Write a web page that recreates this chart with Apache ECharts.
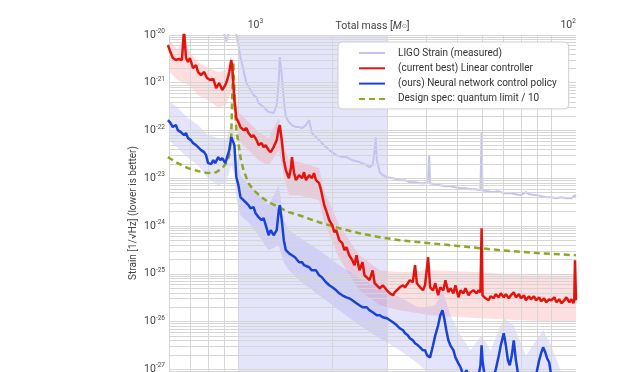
<!DOCTYPE html>
<html><head><meta charset="utf-8">
<script src="https://cdn.jsdelivr.net/npm/echarts@6/dist/echarts.min.js"></script>
<style>html,body{margin:0;padding:0;background:#fff}#c{width:640px;height:372px}</style>
</head><body><div id="c"></div>
<script>
// ---- data: [frequency Hz, strain 1/sqrt(Hz)] ----
const ligoStrain = [
[8.88,2.1e-20],[9.01,1.05e-20],[9.15,7.4e-21],[9.28,1.05e-20],[9.49,2.1e-20],[9.71,2.1e-20],[9.85,1.0e-20],
[10.0,6.17e-21],[10.15,3.46e-21],[10.38,1.85e-21],[10.61,9.86e-22],[10.93,7.03e-22],[11.18,5.52e-22],[11.43,5.01e-22],
[11.60,3.75e-22],[12.04,3.10e-22],[12.49,2.43e-22],[12.96,2.32e-22],[13.26,3.41e-22],[13.46,1.14e-21],[13.56,3.46e-21],
[13.66,3.81e-21],[13.76,1.45e-21],[13.97,4.34e-22],[14.18,1.91e-22],[14.50,1.50e-22],[14.83,1.30e-22],[15.27,1.18e-22],
[15.63,1.18e-22],[15.98,1.12e-22],[16.45,1.30e-22],[16.83,1.65e-22],[17.17,8.83e-23],[17.70,7.28e-23],[18.11,6.29e-23],
[18.48,5.45e-23],[19.06,4.49e-23],[19.52,3.88e-23],[19.96,3.52e-23],[20.55,3.05e-23],[21.48,2.77e-23],[22.14,2.77e-23],
[23.13,2.39e-23],[24.37,2.18e-23],[25.71,1.88e-23],[26.25,1.71e-23],[26.86,1.88e-23],[27.26,3.88e-23],[27.46,7.28e-23],
[27.70,2.39e-23],[28.32,1.34e-23],[28.95,1.16e-23],[29.83,1.05e-23],[31.2,1.00e-23],[32.8,9.12e-24],[34.1,9.12e-24],
[35.3,8.28e-24],[36.7,8.28e-24],[38.1,7.89e-24],[39.5,7.89e-24],[40.4,8.69e-24],[40.7,3.05e-23],[41.0,7.89e-24],
[42.6,7.52e-24],[44.2,7.16e-24],[45.9,6.82e-24],[47.6,6.82e-24],[49.4,6.50e-24],[51.3,6.20e-24],[53.2,6.20e-24],
[55.2,5.91e-24],[57.3,5.91e-24],[59.4,5.63e-24],[59.9,9.25e-23],[60.3,5.63e-24],[62.6,5.37e-24],[65.0,5.12e-24],
[67.5,5.37e-24],[70.5,4.87e-24],[74.3,4.87e-24],[77.1,4.64e-24],[80.0,4.43e-24],[83.0,5.12e-24],[84.9,4.64e-24],
[89.4,4.43e-24],[92.8,4.22e-24],[96.3,4.02e-24],[100,4.02e-24],[103.9,3.83e-24],[107.7,4.02e-24],[111.8,3.83e-24],
[116.0,3.83e-24],[119.0,4.43e-24],[120,4.22e-24]
];
const linearController = [
[5.95,6.17e-21],[6.03,4.85e-21],[6.17,3.30e-21],[6.31,2.99e-21],[6.45,3.14e-21],[6.60,2.99e-21],[6.70,1.3e-20],[6.75,1.3e-20],
[6.80,3.30e-21],[6.90,2.72e-21],[7.00,3.30e-21],[7.16,2.03e-21],[7.32,2.35e-21],[7.43,1.68e-21],[7.60,1.45e-21],[7.77,1.68e-21],
[7.94,1.26e-21],[8.12,1.14e-21],[8.31,1.20e-21],[8.49,7.74e-22],[8.68,9.86e-22],[8.88,7.03e-22],[9.08,8.95e-22],[9.21,1.14e-21],
[9.35,1.68e-21],[9.49,2.99e-21],[9.56,2.03e-21],[9.71,4.34e-22],[9.85,1.82e-22],[10.0,1.50e-22],[10.15,1.18e-22],[10.38,1.02e-22],
[10.61,1.12e-22],[10.77,8.83e-23],[11.01,7.28e-23],[11.18,8.01e-23],[11.43,6.29e-23],[11.60,4.94e-23],[11.86,5.45e-23],[12.04,4.49e-23],
[12.22,4.94e-23],[12.49,3.88e-23],[12.68,3.52e-23],[12.96,4.49e-23],[13.26,6.29e-23],[13.46,1.12e-22],[13.56,1.30e-22],[13.76,6.29e-23],
[13.97,2.39e-23],[14.18,1.48e-23],[14.50,1.00e-23],[14.72,1.63e-23],[14.83,2.77e-23],[15.05,1.34e-23],[15.27,9.12e-24],[15.63,1.16e-23],
[15.98,1.00e-23],[16.21,1.34e-23],[16.45,9.12e-24],[16.83,1.16e-23],[17.17,1.00e-23],[17.44,1.28e-23],[17.70,9.12e-24],[18.11,7.89e-24],
[18.38,5.63e-24],[18.81,2.73e-24],[19.06,2.14e-24],[19.52,1.32e-24],[19.96,1.04e-24],[20.25,7.41e-25],[20.55,8.17e-25],[21.00,5.04e-25],
[21.48,4.36e-25],[21.82,3.11e-25],[22.14,3.60e-25],[22.61,2.44e-25],[23.13,1.92e-25],[23.51,1.51e-25],[23.85,2.44e-25],[24.37,1.18e-25],
[24.93,1.74e-25],[25.30,9.31e-26],[25.71,8.45e-26],[26.25,7.31e-26],[26.86,1.18e-25],[27.26,6.33e-26],[27.70,5.74e-26],[28.32,4.97e-26],
[28.95,5.74e-26],[29.83,4.51e-26],[30.5,3.90e-26],[31.2,3.54e-26],[31.6,4.09e-26],[32.1,4.51e-26],[32.8,5.21e-26],[33.6,5.74e-26],
[34.1,5.21e-26],[34.8,6.33e-26],[35.3,7.31e-26],[36.1,6.64e-26],[36.7,1.51e-25],[37.2,6.33e-26],[38.1,5.21e-26],[38.9,4.51e-26],
[39.5,5.74e-26],[40.4,2.22e-25],[41.0,5.21e-26],[41.9,4.51e-26],[42.6,6.33e-26],[43.5,3.54e-26],[44.2,5.21e-26],[45.2,4.51e-26],
[45.9,7.31e-26],[46.9,4.09e-26],[47.6,4.97e-26],[48.7,3.90e-26],[49.4,5.74e-26],[50.5,3.21e-26],[51.3,4.51e-26],[52.4,3.90e-26],
[53.2,4.97e-26],[54.4,3.54e-26],[55.2,4.09e-26],[56.4,4.51e-26],[57.7,3.90e-26],[58.6,4.51e-26],[59.4,4.09e-26],[59.9,9.0e-25],
[60.3,3.54e-26],[61.7,3.06e-26],[63.1,2.78e-26],[64.0,3.37e-26],[65.5,3.06e-26],[66.4,3.72e-26],[68.0,3.21e-26],[69.0,3.90e-26],
[70.5,3.21e-26],[71.6,3.72e-26],[73.2,3.06e-26],[74.3,3.54e-26],[75.9,4.09e-26],[77.1,3.21e-26],[78.9,3.72e-26],[80.0,3.06e-26],
[81.8,3.54e-26],[83.0,2.78e-26],[84.9,3.37e-26],[86.1,2.92e-26],[88.1,3.37e-26],[89.4,2.78e-26],[91.5,3.21e-26],[92.8,2.65e-26],
[94.9,3.06e-26],[96.3,2.53e-26],[98.5,2.92e-26],[100,2.78e-26],[102.3,3.21e-26],[103.9,2.53e-26],[106.1,2.92e-26],[107.7,2.41e-26],
[110.1,2.78e-26],[111.8,3.21e-26],[114.3,2.53e-26],[116.0,2.92e-26],[117.8,2.41e-26],[118.5,2.78e-26],[119.1,1.92e-25],[120,2.78e-26]
];
const neuralPolicy = [
[5.95,1.65e-22],[6.07,1.43e-22],[6.17,1.18e-22],[6.31,1.30e-22],[6.40,1.02e-22],[6.55,9.25e-23],[6.70,8.01e-23],[6.80,8.83e-23],
[6.90,6.93e-23],[7.05,6.29e-23],[7.16,5.45e-23],[7.32,4.94e-23],[7.43,4.49e-23],[7.60,3.88e-23],[7.77,3.52e-23],[7.88,3.05e-23],
[8.00,2.07e-23],[8.18,1.98e-23],[8.31,2.39e-23],[8.43,2.07e-23],[8.62,2.77e-23],[8.75,2.39e-23],[8.88,2.64e-23],[9.08,2.07e-23],
[9.21,2.18e-23],[9.35,3.88e-23],[9.49,7.28e-23],[9.56,8.01e-23],[9.71,4.94e-23],[9.85,1.05e-23],[10.0,7.16e-24],[10.15,4.02e-24],
[10.38,3.48e-24],[10.53,3.83e-24],[10.77,2.73e-24],[10.93,2.36e-24],[11.18,2.48e-24],[11.35,1.85e-24],[11.60,1.53e-24],[11.86,1.32e-24],
[12.04,1.46e-24],[12.31,9.0e-25],[12.49,6.41e-25],[12.68,8.17e-25],[12.96,6.41e-25],[13.26,8.17e-25],[13.46,2.14e-24],[13.56,2.73e-24],
[13.76,1.32e-24],[13.97,5.04e-25],[14.18,3.11e-25],[14.50,2.69e-25],[14.83,2.44e-25],[15.16,2.22e-25],[15.63,1.74e-25],[15.98,1.74e-25],
[16.21,1.51e-25],[16.83,1.37e-25],[17.17,1.18e-25],[17.70,1.18e-25],[18.11,9.31e-26],[18.48,8.45e-26],[19.06,6.64e-26],[19.52,5.74e-26],
[19.96,5.21e-26],[20.55,4.51e-26],[21.00,3.90e-26],[21.48,3.54e-26],[22.14,3.21e-26],[22.61,3.06e-26],[23.13,2.78e-26],[23.85,2.41e-26],
[24.37,2.19e-26],[24.93,1.99e-26],[25.71,1.99e-26],[26.25,1.72e-26],[26.86,1.56e-26],[27.70,1.35e-26],[28.32,1.35e-26],[28.95,1.23e-26],
[29.83,1.17e-26],[30.5,1.06e-26],[31.2,9.62e-27],[32.1,8.32e-27],[32.8,7.21e-27],[33.6,6.54e-27],[34.1,5.66e-27],[34.8,5.14e-27],
[35.3,4.45e-27],[36.1,4.04e-27],[36.7,3.49e-27],[37.5,3.17e-27],[38.1,2.88e-27],[38.9,2.49e-27],[39.5,2.49e-27],[40.1,1.95e-27],
[41.0,1.77e-27],[41.9,3.17e-27],[42.6,5.14e-27],[43.5,8.32e-27],[44.2,1.35e-26],[44.9,1.72e-26],[45.5,1.17e-26],[46.2,6.54e-27],
[46.9,4.04e-27],[47.6,3.17e-27],[48.7,2.49e-27],[49.4,1.77e-27],[50.5,1.33e-27],[51.3,1.10e-27],[52.4,7.4e-28],[53.6,9.5e-28],
[55.2,5.9e-28],[58.6,7.4e-28],[59.4,1.21e-27],[59.9,3.17e-27],[60.3,1.54e-27],[61.2,7.4e-28],[64.0,5.9e-28],[66.4,9.5e-28],
[68.0,1.95e-27],[69.0,3.17e-27],[70.5,5.66e-27],[71.6,3.17e-27],[72.7,1.54e-27],[73.7,1.21e-27],[74.8,1.95e-27],[75.9,4.04e-27],
[77.1,1.54e-27],[78.9,5.9e-28],[83.0,4.6e-28],[89.4,7.4e-28],[91.5,1.54e-27],[92.8,2.15e-27],[94.2,2.88e-27],[95.6,2.3e-27],
[97.1,1.67e-27],[98.5,1.4e-27],[100,7.4e-28],[107.7,4.6e-28],[120,4.6e-28]
];
const designSpec = [
[5.95,2.77e-23],[6.40,2.07e-23],[6.90,1.63e-23],[7.43,1.41e-23],[8.00,1.28e-23],[8.49,1.34e-23],[8.88,1.63e-23],[9.15,2.07e-23],
[9.35,3.05e-23],[9.49,8.01e-23],[9.56,5.52e-22],[9.63,2.72e-21],[9.71,7.03e-22],[9.78,2.10e-22],[9.85,1.02e-22],[10.0,5.45e-23],
[10.15,2.77e-23],[10.38,1.48e-23],[10.77,7.89e-24],[11.18,5.63e-24],[11.86,4.02e-24],[12.49,3.16e-24],[13.46,2.48e-24],[14.50,1.95e-24],
[15.63,1.68e-24],[18.11,1.20e-24],[21.00,9.0e-25],[24.37,7.06e-25],[28.32,5.82e-25],[32.8,5.04e-25],[41.0,4.36e-25],[51.3,3.77e-25],
[69.0,3.11e-25],[92.8,2.69e-25],[120,2.44e-25]
];
const linearUpper = [
[5.95,8.65e-21],[6.40,4.85e-21],[6.70,1.0e-20],[6.90,4.85e-21],[7.43,2.72e-21],[8.00,2.03e-21],[8.62,1.68e-21],[9.15,1.85e-21],
[9.49,3.81e-21],[9.71,8.95e-22],[10.0,2.43e-22],[10.77,1.50e-22],[11.60,9.25e-23],[12.49,6.93e-23],[13.46,1.82e-22],[13.97,4.94e-23],
[14.50,2.39e-23],[15.63,2.18e-23],[18.11,1.63e-23],[18.81,5.63e-24],[21.00,1.04e-24],[24.37,2.44e-25],[28.32,1.18e-25],[32.8,1.07e-25],
[41.0,1.18e-25],[59.4,1.07e-25],[80.0,9.31e-26],[120,9.31e-26]
];
const linearLower = [
[5.95,1.85e-21],[6.40,1.14e-21],[6.90,8.95e-22],[7.43,5.52e-22],[8.00,4.34e-22],[8.62,2.95e-22],[9.15,3.41e-22],[9.49,7.03e-22],
[9.71,1.65e-22],[10.0,6.29e-23],[10.77,3.88e-23],[11.60,2.39e-23],[12.49,1.88e-23],[13.46,3.88e-23],[13.97,1.16e-23],[14.50,4.43e-24],
[15.63,4.43e-24],[18.11,3.48e-24],[18.81,1.20e-24],[21.00,2.11e-25],[24.37,4.51e-26],[28.32,2.19e-26],[32.8,1.72e-26],[41.0,1.35e-26],
[59.4,1.17e-26],[80.0,1.06e-26],[120,9.62e-27]
];
const neuralUpper = [
[5.95,4.34e-22],[6.40,2.95e-22],[6.90,1.82e-22],[7.43,1.30e-22],[8.00,8.01e-23],[8.62,6.93e-23],[9.15,6.29e-23],[9.49,1.50e-22],
[9.71,1.02e-22],[9.85,3.05e-23],[10.15,1.16e-23],[10.77,7.16e-24],[11.60,4.43e-24],[12.49,2.73e-24],[13.46,7.16e-24],[13.97,1.32e-24],
[14.50,8.17e-25],[15.63,5.82e-25],[18.11,3.11e-25],[21.00,1.51e-25],[24.37,8.05e-26],[28.32,4.97e-26],[32.8,3.21e-26],[38.1,1.89e-26],
[42.6,2.19e-26],[44.9,4.51e-26],[47.6,1.35e-26],[51.3,5.14e-27],[55.2,2.49e-27],[59.9,5.14e-27],[64.0,2.49e-27],[70.5,1.17e-26],
[75.9,8.32e-27],[83.0,1.95e-27],[94.2,6.54e-27],[100,3.17e-27],[107.7,8.6e-28],[120,5.9e-28]
];
const neuralLower = [
[5.95,6.29e-23],[6.40,4.28e-23],[6.90,2.64e-23],[7.43,1.88e-23],[8.00,1.0e-23],[8.62,7.16e-24],[9.15,8.28e-24],[9.49,1.88e-23],
[9.71,1.16e-23],[9.85,3.48e-24],[10.15,1.68e-24],[10.77,1.20e-24],[11.60,6.41e-25],[12.49,3.11e-25],[13.46,3.96e-25],[13.97,1.74e-25],
[14.50,1.18e-25],[15.63,7.31e-26],[18.11,3.54e-26],[21.00,1.72e-26],[24.37,8.32e-27],[28.32,4.45e-27],[32.8,2.49e-27],[38.1,1.21e-27],
[41.0,7.4e-28],[120,5.9e-28]
];
const shadedBandHz = [10, 30];
const freqGridLines = [6, 7, 8, 9, 10, 20, 30, 40, 50, 60, 70, 80, 90, 100];
const strainDecades = [-28, -27, -26, -25, -24, -23, -22, -21];
const massScale = 11330; // total mass [Msun] = massScale / f
const massTicks = [100, 1000];
const names = ['LIGO Strain (measured)', '(current best) Linear controller', '(ours) Neural network control policy', 'Design spec: quantum limit / 10'];

const FONT = 'Roboto, "Noto Sans", sans-serif';
const X_RANGE = [6, 120], Y_RANGE = [1e-28, 1e-20];
const strainGridLines = [];
strainDecades.forEach(d => { for (let k = 1; k <= 9; k++) strainGridLines.push(k * Math.pow(10, d)); });
strainGridLines.push(1e-20);

function powLabel(v) {
  const l = Math.log10(v), e = Math.round(l);
  if (!isFinite(l) || Math.abs(l - e) > 1e-6) return '';
  return '{b|10}{s|' + e + '}';
}
function massLabel(v) {
  return massTicks.some(t => Math.abs(v - t) / t < 1e-6) ? powLabel(v) : '';
}
function band(upper, lower, color) {
  return {
    type: 'custom', coordinateSystem: 'cartesian2d', silent: true, z: 3,
    data: [upper[0]],
    renderItem(params, api) {
      const pts = upper.map(p => api.coord(p)).concat(lower.slice().reverse().map(p => api.coord(p)));
      const cs = params.coordSys;
      return { type: 'group', clipPath: { type: 'rect', shape: { x: cs.x, y: cs.y, width: cs.width, height: cs.height } },
        children: [{ type: 'polygon', shape: { points: pts }, style: { fill: color } }] };
    }
  };
}
const chart = echarts.init(document.getElementById('c'), null, { renderer: 'canvas' });
const gridColor = '#d6d6d6';
const labRich = { b: { fontSize: 10.5, color: '#444', fontFamily: FONT }, s: { fontSize: 6.5, color: '#444', fontFamily: FONT, padding: [0, 0, 7, 0] } };
chart.setOption({
  animation: false,
  textStyle: { fontFamily: FONT },
  grid: { left: 169, right: 64, top: 35, bottom: -45, containLabel: false, outerBoundsMode: 'none' },
  xAxis: [
    { type: 'log', min: X_RANGE[0], max: X_RANGE[1], axisLabel: { show: false }, axisLine: { show: false }, axisTick: { show: false }, splitLine: { show: false } },
    { type: 'log', position: 'top', inverse: true, min: massScale / X_RANGE[1], max: massScale / X_RANGE[0],
      axisLine: { show: false }, axisTick: { show: false }, splitLine: { show: false },
      name: '{t|Total mass [}{i|M}{o|⊙}{t|]}', nameLocation: 'middle', nameGap: 3, nameMoveOverlap: false,
      nameTextStyle: { rich: { t: { fontSize: 10.5, color: '#444', fontFamily: FONT }, i: { fontSize: 10.5, color: '#444', fontStyle: 'italic', fontFamily: FONT }, o: { fontSize: 6, color: '#777', fontFamily: FONT } } },
      axisLabel: { interval: 0, margin: 3, showMinLabel: false, showMaxLabel: false, hideOverlap: false, formatter: massLabel, rich: labRich } }
  ],
  yAxis: { type: 'log', min: Y_RANGE[0], max: Y_RANGE[1], splitNumber: 10,
    axisLine: { show: false }, axisTick: { show: false }, splitLine: { show: false },
    axisLabel: { margin: 4, formatter: powLabel, rich: labRich } },
  graphic: [{ type: 'text', x: 133, y: 213, rotation: Math.PI / 2,
    style: { text: 'Strain [1/√Hz] (lower is better)', font: '10px ' + FONT, fill: '#444', textAlign: 'center', textVerticalAlign: 'middle' } }],
  legend: {
    data: names, orient: 'vertical', left: 338, top: 42, padding: [5, 12, 4, 20], z: 30,
    backgroundColor: '#fff', borderColor: '#cfcfcf', borderWidth: 1, borderRadius: 4,
    itemWidth: 26, itemHeight: 12, itemGap: 3.3, itemStyle: { opacity: 0 },
    textStyle: { fontSize: 10, lineHeight: 12, color: '#333', padding: [0, 0, 0, 8] }
  },
  series: [
    { type: 'line', data: [], silent: true, z: 1,
      markArea: { silent: true, label: { show: false }, itemStyle: { color: '#e4e4fa' }, data: [[{ xAxis: shadedBandHz[0] }, { xAxis: shadedBandHz[1] }]] } },
    { type: 'line', data: [], silent: true, z: 2,
      markLine: { silent: true, symbol: 'none', label: { show: false }, animation: false,
        lineStyle: { color: gridColor, width: 1, type: 'solid' },
        data: freqGridLines.map(v => [{ coord: [v, Y_RANGE[0]] }, { coord: [v, Y_RANGE[1]] }])
          .concat(strainGridLines.map(v => [{ coord: [X_RANGE[0], v] }, { coord: [X_RANGE[1], v] }])) } },
    band(linearUpper, linearLower, 'rgba(245,120,120,0.24)'),
    band(neuralUpper, neuralLower, 'rgba(130,130,240,0.22)'),
    { name: names[0], type: 'line', data: ligoStrain, symbol: 'none', z: 4, lineStyle: { color: '#c4c2ef', width: 2 }, itemStyle: { color: '#c4c2ef' } },
    { name: names[3], type: 'line', data: designSpec, symbol: 'none', z: 5, lineStyle: { color: '#8ea826', width: 2.5, type: [6, 4] }, itemStyle: { color: '#8ea826' } },
    { name: names[1], type: 'line', data: linearController, symbol: 'none', z: 6, lineStyle: { color: '#e3140e', width: 2.5 }, itemStyle: { color: '#e3140e' } },
    { name: names[2], type: 'line', data: neuralPolicy, symbol: 'none', z: 7, lineStyle: { color: '#1943d6', width: 2.5 }, itemStyle: { color: '#1943d6' } }
  ]
});
</script></body></html>
